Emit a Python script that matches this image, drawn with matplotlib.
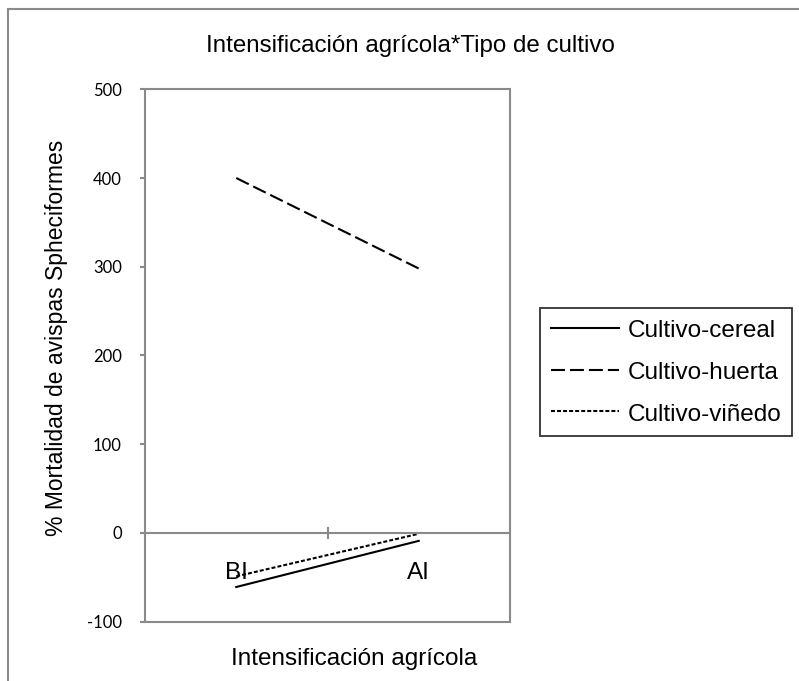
import matplotlib
matplotlib.use("Agg")
import matplotlib.pyplot as plt
from matplotlib.patches import Rectangle
from matplotlib.lines import Line2D

categories = ["BI", "AI"]
cereal = [-61, -9]
huerta = [400, 298]
vinedo = [-49, -1]
series_names = ["Cultivo-cereal", "Cultivo-huerta", "Cultivo-viñedo"]
yticks = [-100, 0, 100, 200, 300, 400, 500]

W, H = 799, 681
fig = plt.figure(figsize=(W / 100, H / 100), dpi=100)
fig.patch.set_facecolor("white")

GRAY = "#8a8a8a"
ARIAL = "Liberation Sans"

ax = fig.add_axes([145 / W, 1 - 621.6 / H, (510 - 145) / W, (621.6 - 89.3) / H])

x = list(range(len(categories)))
lw = 1.5
ax.plot(x, cereal, color="black", lw=lw, linestyle="-", label=series_names[0])
ax.plot(x, huerta, color="black", lw=lw, linestyle=(0, (6.7, 2.4)), label=series_names[1])
ax.plot(x, vinedo, color="black", lw=lw, linestyle=(0, (1.9, 1.0)), label=series_names[2])

ax.set_xlim(-0.5, 1.5)
ax.set_ylim(-100, 500)

for s in ["top", "right", "left"]:
    ax.spines[s].set_visible(False)
ax.spines["bottom"].set_position(("data", 0))
ax.spines["bottom"].set_color(GRAY)
ax.spines["bottom"].set_linewidth(1.5)
ax.add_patch(Rectangle((0, 0), 1, 1, transform=ax.transAxes, fill=False,
                       edgecolor=GRAY, lw=1.5, clip_on=False, zorder=0.5))

ax.set_yticks(yticks)
ax.set_yticklabels([str(v) for v in yticks], fontfamily="Lato", fontsize=12)
ax.tick_params(axis="y", direction="out", length=3.6, width=1.5, color=GRAY, pad=13)

ax.set_xticks(x)
ax.set_xticklabels(categories, fontfamily=ARIAL, fontsize=17.5)
ax.set_xticks([0.5], minor=True)
ax.tick_params(axis="x", which="major", length=0, pad=21)
ax.tick_params(axis="x", which="minor", direction="inout", length=9, width=1.5, color=GRAY)

fig.text(410 / W, 1 - 51.7 / H, "Intensificación agrícola*Tipo de cultivo",
         ha="center", va="baseline", fontfamily=ARIAL, fontsize=17.4)
fig.text(354 / W, 1 - 665 / H, "Intensificación agrícola",
         ha="center", va="baseline", fontfamily=ARIAL, fontsize=17.5)
fig.text(57 / W, 1 - 338 / H, "% Mortalidad de avispas Spheciformes",
         ha="center", va="center", rotation=90, fontfamily=ARIAL, fontsize=16.5)

leg = fig.legend(loc="upper left", bbox_to_anchor=(540 / W, 1 - 308 / H),
                 borderaxespad=0, frameon=True, fancybox=False,
                 prop={"family": ARIAL, "size": 17.5},
                 handlelength=2.8, handletextpad=0.38, borderpad=0.44,
                 labelspacing=0.75, handleheight=0.9)
leg.get_frame().set_edgecolor("black")
leg.get_frame().set_linewidth(1.3)

# outer chart frame (only left and top visible)
fig.add_artist(Line2D([8 / W, 8 / W], [1 - 9 / H, 0], transform=fig.transFigure,
                      color=GRAY, lw=1.5))
fig.add_artist(Line2D([8 / W, 1], [1 - 9 / H, 1 - 9 / H], transform=fig.transFigure,
                      color=GRAY, lw=1.5))

fig.savefig("out.png", dpi=100, facecolor="white")
